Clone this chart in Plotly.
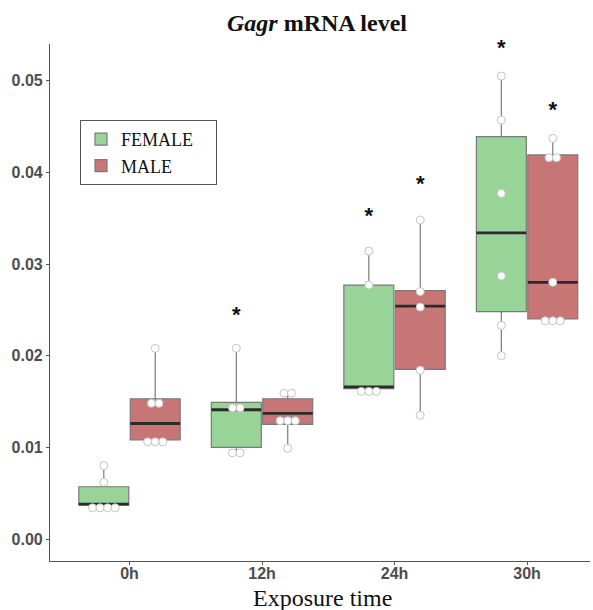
import plotly.graph_objects as go

categories = ["0h", "12h", "24h", "30h"]

# individual data points (binned dot positions as drawn)
female_points = [
    [0.0080, 0.0062, 0.0034, 0.0034, 0.0034, 0.0034],
    [0.0208, 0.0143, 0.0143, 0.0094, 0.0094],
    [0.0314, 0.0277, 0.0161, 0.0161, 0.0161],
    [0.0505, 0.0457, 0.0377, 0.0287, 0.0233, 0.0200],
]
male_points = [
    [0.0208, 0.0148, 0.0148, 0.0106, 0.0106, 0.0106],
    [0.0159, 0.0159, 0.0129, 0.0129, 0.0129, 0.0099],
    [0.0348, 0.0270, 0.0253, 0.0184, 0.0135],
    [0.0437, 0.0416, 0.0416, 0.0280, 0.0238, 0.0238, 0.0238],
]

# box statistics
female_q1 = [0.0037, 0.0100, 0.0164, 0.0248]
female_median = [0.0038, 0.0141, 0.0166, 0.0334]
female_q3 = [0.0057, 0.0149, 0.0277, 0.0439]
female_low = [0.0034, 0.0094, 0.0161, 0.0200]
female_high = [0.0080, 0.0208, 0.0314, 0.0505]

male_q1 = [0.0108, 0.0125, 0.0185, 0.0240]
male_median = [0.0126, 0.0137, 0.0254, 0.0280]
male_q3 = [0.0153, 0.0153, 0.0271, 0.0419]
male_low = [0.0106, 0.0099, 0.0135, 0.0238]
male_high = [0.0208, 0.0161, 0.0348, 0.0437]

# significance asterisks (None = no star)
female_star = [None, 0.0246, 0.0354, 0.0537]
male_star = [None, None, 0.0389, 0.0470]

y_ticks = [0.00, 0.01, 0.02, 0.03, 0.04, 0.05]
y_tick_labels = ["0.00", "0.01", "0.02", "0.03", "0.04", "0.05"]

FEMALE_FILL = "#98D498"
MALE_FILL = "#C77575"
OFFSET = 0.194
BOX_W = 0.377
DOT_STEP = 0.057
Y_RANGE = [-0.0024, 0.054]
PLOT_H = 610 - 44 - 49
STAR_SHIFT = 3 * (Y_RANGE[1] - Y_RANGE[0]) / PLOT_H  # glyph sits high; nudge 3px down

fig = go.Figure()

series = [
    ("FEMALE", FEMALE_FILL, -OFFSET, female_points, female_q1, female_median, female_q3, female_low, female_high, female_star),
    ("MALE", MALE_FILL, OFFSET, male_points, male_q1, male_median, male_q3, male_low, male_high, male_star),
]

NBSP = "\u00a0"
for name, fill, off, pts, q1, med, q3, lo, hi, star in series:
    xs = [i + off for i in range(len(categories))]
    fig.add_trace(go.Box(
        x=xs, q1=q1, median=med, q3=q3, lowerfence=lo, upperfence=hi,
        width=BOX_W, fillcolor=fill, line=dict(color="#7a7a7a", width=1.2),
        whiskerwidth=0, boxpoints=False, name=name + NBSP * 4, showlegend=True,
        hoverinfo="skip",
    ))

for name, fill, off, pts, q1, med, q3, lo, hi, star in series:
    xs = [i + off for i in range(len(categories))]
    # median lines
    mx, my = [], []
    for x, m in zip(xs, med):
        mx += [x - BOX_W / 2, x + BOX_W / 2, None]
        my += [m, m, None]
    fig.add_trace(go.Scatter(x=mx, y=my, mode="lines",
                             line=dict(color="#2b2b2b", width=2.8),
                             showlegend=False, hoverinfo="skip"))
    # dots stacked horizontally when values coincide
    dx, dy = [], []
    for x, vals in zip(xs, pts):
        groups = {}
        for v in vals:
            groups.setdefault(v, 0)
            groups[v] += 1
        for v, n in groups.items():
            for k in range(n):
                dx.append(x + (k - (n - 1) / 2) * DOT_STEP)
                dy.append(v)
    fig.add_trace(go.Scatter(x=dx, y=dy, mode="markers",
                             marker=dict(size=8, color="white",
                                         line=dict(color="#c4c4c4", width=1)),
                             showlegend=False, hoverinfo="skip"))
    # asterisks
    sx = [x for x, s in zip(xs, star) if s is not None]
    sy = [s - STAR_SHIFT for s in star if s is not None]
    fig.add_trace(go.Scatter(x=sx, y=sy, mode="text", text=["*"] * len(sx),
                             textposition="middle center", cliponaxis=False,
                             textfont=dict(family="Liberation Sans", size=22,
                                           color="#111111", weight="bold"),
                             showlegend=False, hoverinfo="skip"))

fig.add_annotation(text="Exposure time", xref="paper", yref="paper",
                   x=(322 - 50) / 540, y=-(598 - 561) / PLOT_H, xanchor="center", yanchor="middle",
                   showarrow=False,
                   font=dict(family="Liberation Serif", size=24, color="#111111"))

fig.update_layout(
    width=593, height=610,
    margin=dict(l=50, r=3, t=44, b=49, autoexpand=False),
    plot_bgcolor="white", paper_bgcolor="white",
    boxmode="overlay",
    title=dict(text="<i>Gagr</i> mRNA level", x=317 / 593, xanchor="center",
               y=1 - 23 / 610, yanchor="middle",
               font=dict(family="Liberation Serif", size=24, color="#111111", weight="bold")),
    xaxis=dict(range=[-0.6, 3.475], tickmode="array", tickvals=list(range(len(categories))),
               ticktext=categories, showgrid=False, zeroline=False, automargin=False,
               showline=True, linecolor="#555555", linewidth=1.2,
               ticks="outside", ticklen=3, tickcolor="#555555",
               tickfont=dict(family="Liberation Sans", size=16, color="#4d4d4d", weight="bold")),
    yaxis=dict(range=Y_RANGE, tickmode="array", tickvals=y_ticks,
               ticktext=y_tick_labels, showgrid=False, zeroline=False, automargin=False,
               showline=True, linecolor="#555555", linewidth=1.2,
               ticks="outside", ticklen=3, tickcolor="#555555",
               tickfont=dict(family="Liberation Sans", size=16, color="#4d4d4d", weight="bold")),
    legend=dict(x=30 / 540, y=(561 - 120) / PLOT_H, xanchor="left", yanchor="top",
                bordercolor="#555555", borderwidth=1, bgcolor="white",
                font=dict(family="Liberation Serif", size=18, color="#111111"),
                tracegroupgap=0, itemwidth=30),
)

try:
    fig.update_xaxes(ticklabelstandoff=-5)
except Exception:
    pass

fig.write_html("out.html", config={"displayModeBar": False},
               post_script="document.body.style.margin='0';document.body.style.padding='0';")
